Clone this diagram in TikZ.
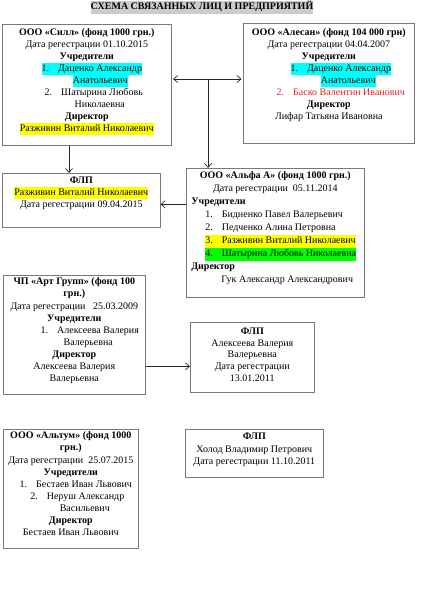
\documentclass[tikz,border=0pt]{standalone}
\usepackage{fontspec}
\setmainfont{Liberation Serif}
\usepackage{xcolor}
\usepackage{tikz}
\usetikzlibrary{arrows.meta}

\definecolor{hlcyan}{RGB}{0,255,255}
\definecolor{hlyellow}{RGB}{255,255,0}
\definecolor{hlgreen}{RGB}{0,255,0}
\definecolor{txtred}{RGB}{225,35,35}
\definecolor{frame}{RGB}{120,120,120}
\setlength{\fboxsep}{0pt}
\newcommand{\hlt}[2]{\colorbox{#1}{\strut #2}}
\newcommand{\lft}[2]{\makebox[\linewidth][l]{\hspace*{#1}#2}}
\newcommand{\boxtxt}[5]{\parbox[t][#2][t]{#1}{\fontsize{10}{#3}\selectfont\centering\rule{0pt}{#4}#5}}

\begin{document}
\begin{tikzpicture}[x=1pt,y=-1pt,
    box/.style={draw=frame,line width=0.6pt,inner sep=0pt,anchor=north west},
    link/.style={-{Straight Barb[length=4pt,width=7pt]},line width=0.7pt,draw=black!85}]
  \useasboundingbox (0,0) rectangle (435,610);
  \node[inner sep=0pt,font=\fontsize{10}{12}\selectfont](title) at (202,7.5)
    {\colorbox{gray!40}{\strut\textbf{СХЕМА СВЯЗАННЫХ ЛИЦ И ПРЕДПРИЯТИЙ}}};

  % top row
  \node[box](sill) at (2,24){\boxtxt{169pt}{121pt}{12pt}{11.5pt}{%
    \textbf{ООО «Силл» (фонд 1000 грн.)}\\
    Дата регестрации 01.10.2015\\
    \textbf{Учредители}\\
    \hspace*{10pt}\hlt{hlcyan}{1.\hspace{9pt}Даценко Александр}\\
    \hspace*{27pt}\hlt{hlcyan}{Анатольевич}\\
    \hspace*{14pt}2.\hspace{9pt}Шатырина Любовь\\
    \hspace*{26pt}Николаевна\\
    \textbf{Директор}\\
    \hlt{hlyellow}{Разживин Виталий Николаевич}}};
  \node[box](alesan) at (243,23){\boxtxt{171pt}{120pt}{12pt}{12.5pt}{%
    \textbf{ООО «Алесан» (фонд 104 000 грн)}\\
    Дата регестрации 04.04.2007\\
    \textbf{Учредители}\\
    \hspace*{24pt}\hlt{hlcyan}{1.\hspace{9pt}Даценко Александр}\\
    \hspace*{39pt}\hlt{hlcyan}{Анатольевич}\\
    \hspace*{24pt}\textcolor{txtred}{2.\hspace{9pt}Баско Валентин Иванович}\\
    \textbf{Директор}\\
    Лифар Татьяна Ивановна}};

  % second row
  \node[box](flp1) at (2,173){\boxtxt{158pt}{54pt}{12pt}{10.5pt}{%
    \textbf{ФЛП}\\
    \hlt{hlyellow}{Разживин Виталий Николаевич}\\
    Дата регестрации 09.04.2015}};
  \node[box](alfa) at (186,168){\boxtxt{178pt}{129pt}{13pt}{10.5pt}{%
    \textbf{ООО «Альфа А» (фонд 1000 грн.)}\\
    Дата регестрации\ \ 05.11.2014\\
    \lft{5pt}{\textbf{Учредители}}\\
    \lft{19pt}{1.\hspace{9pt}Бидненко Павел Валерьевич}\\
    \lft{19pt}{2.\hspace{9pt}Педченко Алина Петровна}\\
    \lft{19pt}{\hlt{hlyellow}{3.\hspace{9pt}Разживин Виталий Николаевич}}\\
    \lft{19pt}{\hlt{hlgreen}{4.\hspace{9pt}Шатырина Любовь Николаевна}}\\
    \lft{5pt}{\textbf{Директор}}\\
    \lft{35pt}{Гук Александр Александрович}}};

  % third row
  \node[box](chp) at (3,275){\boxtxt{142pt}{119pt}{12.1pt}{9.5pt}{%
    \textbf{ЧП «Арт Групп» (фонд 100}\\
    \textbf{грн.)}\\
    Дата регестрации\ \ \ 25.03.2009\\
    \textbf{Учредители}\\
    \hspace*{31pt}1.\hspace{9pt}Алексеева Валерия\\
    \hspace*{28pt}Валерьевна\\
    \textbf{Директор}\\
    Алексеева Валерия\\
    Валерьевна}};
  \node[box](flp2) at (190,322){\boxtxt{124pt}{70pt}{11.8pt}{12pt}{%
    \textbf{ФЛП}\\
    Алексеева Валерия\\
    Валерьевна\\
    Дата регестрации\\
    13.01.2011}};

  % bottom row
  \node[box](altum) at (3,429){\boxtxt{135pt}{119pt}{12.1pt}{9.5pt}{%
    \textbf{ООО «Альтум» (фонд 1000}\\
    \textbf{грн.)}\\
    Дата регестрации\ \ 25.07.2015\\
    \textbf{Учредители}\\
    \hspace*{10pt}1.\hspace{9pt}Бестаев Иван Львович\\
    \hspace*{13pt}2.\hspace{9pt}Неруш Александр\\
    \hspace*{28pt}Васильевич\\
    \textbf{Директор}\\
    Бестаев Иван Львович}};
  \node[box](flp3) at (185,429){\boxtxt{138pt}{48pt}{12.3pt}{10.5pt}{%
    \textbf{ФЛП}\\
    Холод Владимир Петрович\\
    Дата регестрации 11.10.2011}};

  % connections
  \coordinate (j) at (208,79);
  \coordinate (a1) at ([yshift=-4pt]flp1.east);
  \coordinate (a2) at ([yshift=-9pt]flp2.west);
  \draw[link,{Straight Barb[length=4pt,width=7pt]}-{Straight Barb[length=4pt,width=7pt]},shorten <=1.5pt,shorten >=1.5pt] (sill.east |- j) -- (alesan.west |- j);
  \draw[link] (j) -- (j |- alfa.north);
  \draw[link] ([xshift=67pt]sill.south west) -- ([xshift=67pt]flp1.north west);
  \draw[link] (alfa.west |- a1) -- (a1);
  \draw[link] (chp.east |- a2) -- (a2);
\end{tikzpicture}
\end{document}
